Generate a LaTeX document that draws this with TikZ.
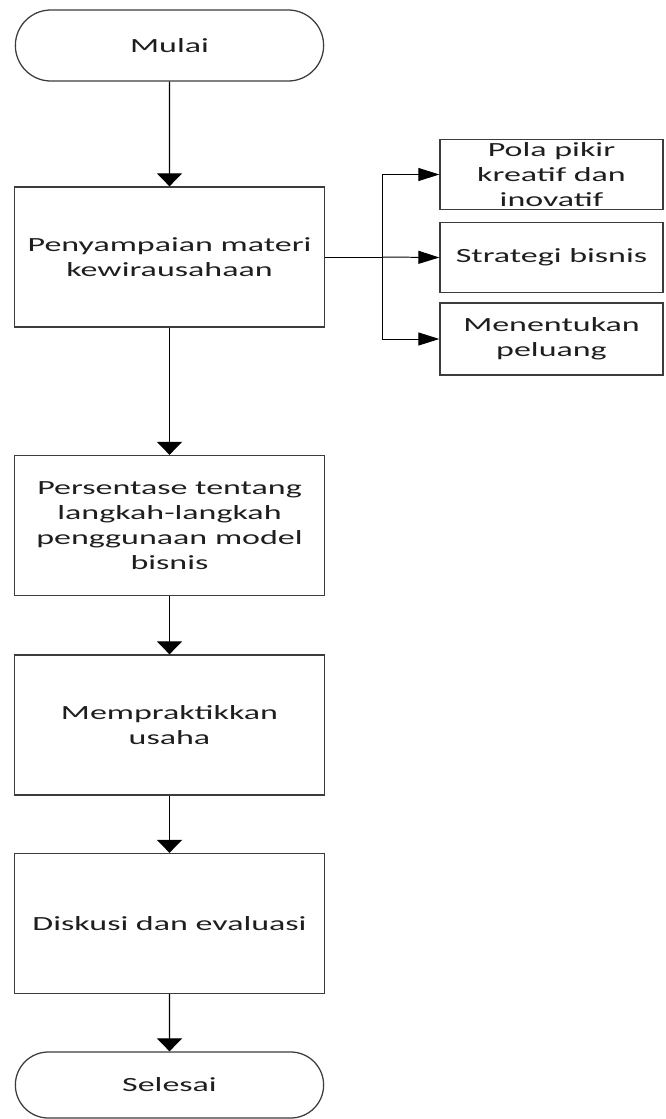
\documentclass[tikz,border=0pt]{standalone}
\usepackage{fontspec}
\setmainfont{Carlito}[FakeStretch=1.69]
\usetikzlibrary{arrows.meta}
\usetikzlibrary{shapes.misc}
\definecolor{flowline}{RGB}{60,60,60}
\definecolor{flowtext}{RGB}{30,30,30}
\tikzset{
  flowbox/.style={draw=flowline,line width=0.9pt,minimum width=7.75cm,minimum height=3.5cm,
    align=center,text=flowtext,inner sep=1pt,font=\fontsize{14.3}{17.8}\selectfont},
  sidebox/.style={flowbox,minimum width=5.575cm,minimum height=1.75cm},
  termbox/.style={flowbox,rounded rectangle,minimum width=7.775cm,minimum height=1.775cm},
  downarrow/.style={draw=black,line width=0.9pt,-{Triangle[length=0.325cm,width=0.625cm]}},
  sidearrow/.style={draw=black,line width=0.7pt,-{Triangle[length=0.525cm,width=0.325cm]}},
  busline/.style={draw=black,line width=0.7pt}
}

\begin{document}
\begin{tikzpicture}[x=0.025cm,y=-0.025cm]
    \useasboundingbox (0,0) rectangle (665,1119);

    % main column
    \node[termbox] (mulai) at (169.5,45.5) {Mulai};
    \node[flowbox] (materi) at (169.5,257) {Penyampaian materi\\kewirausahaan};
    \node[flowbox] (persentase) at (169.5,525.5) {Persentase tentang\\langkah-langkah\\penggunaan model\\bisnis};
    \node[flowbox] (praktik) at (169.5,725) {Mempraktikkan\\usaha};
    \node[flowbox] (diskusi) at (169.5,923.5) {Diskusi dan evaluasi};
    \node[termbox,minimum height=1.65cm] (selesai) at (169.5,1085) {Selesai};

    % side topics
    \node[sidebox] (pola) at (551.5,174.5) {Pola pikir\\kreatif dan\\inovatif};
    \node[sidebox] (strategi) at (551.5,257.5) {Strategi bisnis};
    \node[sidebox,minimum height=1.8cm] (peluang) at (551.5,339) {Menentukan\\peluang};
    \coordinate (bus) at (382,257);

    \draw[downarrow] (mulai) -- (materi);
    \draw[downarrow] (materi) -- (persentase);
    \draw[downarrow] (persentase) -- (praktik);
    \draw[downarrow] (praktik) -- (diskusi);
    \draw[downarrow] (diskusi) -- (selesai);

    \draw[busline] (materi.east) -- (bus);
    \draw[sidearrow] (bus) |- (pola.west);
    \draw[sidearrow] (bus) -- (strategi.west);
    \draw[sidearrow] (bus) |- (peluang.west);
\end{tikzpicture}
\end{document}
